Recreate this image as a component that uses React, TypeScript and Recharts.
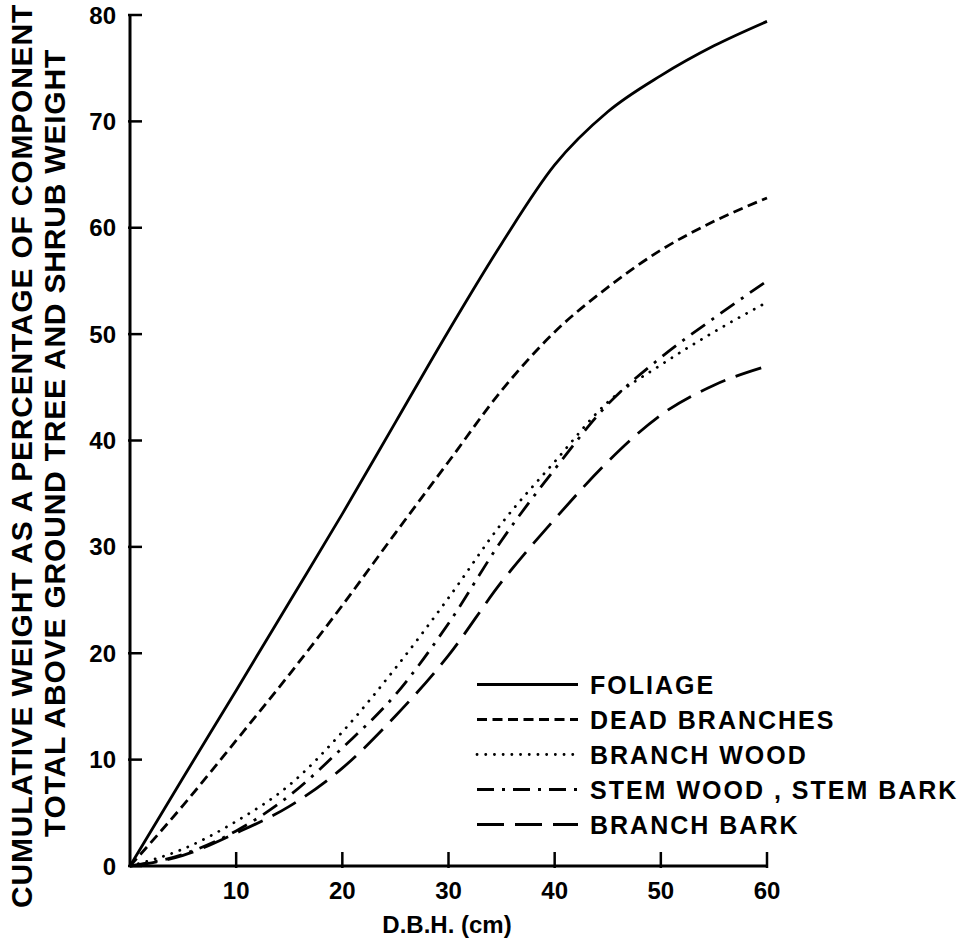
import React from "react";
import { LineChart, Line, XAxis, YAxis, Legend } from "recharts";

// D.B.H. (cm) sample points and cumulative % per component
const dbh = [0, 5, 10, 15, 20, 25, 30, 35, 40, 45, 50, 55, 60];
const foliage = [0, 8.3, 16.5, 24.8, 33.1, 41.7, 50.3, 58.5, 65.9, 70.9, 74.3, 77.1, 79.4];
const deadBranches = [0, 5.7, 11.8, 18.0, 24.5, 31.3, 38.0, 44.7, 50.2, 54.4, 57.9, 60.6, 62.8];
const branchWood = [0, 1.6, 4.2, 7.6, 12.6, 18.6, 25.2, 32.2, 38.0, 43.6, 47.1, 50.2, 53.0];
const stemWood = [0, 1.1, 3.3, 6.6, 11.1, 16.1, 22.8, 30.6, 37.3, 43.4, 47.8, 51.5, 55.0];
const branchBark = [0, 1.0, 3.1, 5.6, 9.2, 14.1, 19.8, 26.7, 32.6, 38.0, 42.4, 45.2, 47.0];

const xTicks = [10, 20, 30, 40, 50, 60];
const yTicks = [0, 10, 20, 30, 40, 50, 60, 70, 80];

const FONT = "'Liberation Sans', Arial, Helvetica, sans-serif";

const series = [
  { key: "foliage", name: "FOLIAGE", dash: undefined, cap: "butt" },
  { key: "deadBranches", name: "DEAD BRANCHES", dash: "10 5.5", cap: "butt" },
  { key: "branchWood", name: "BRANCH WOOD", dash: "0.1 8.6", cap: "round" },
  { key: "stemWood", name: "STEM WOOD , STEM BARK", dash: "17 8 3 8", cap: "butt" },
  { key: "branchBark", name: "BRANCH BARK", dash: "27 11", cap: "butt" },
];

const data = dbh.map((d, i) => ({
  dbh: d,
  foliage: foliage[i],
  deadBranches: deadBranches[i],
  branchWood: branchWood[i],
  stemWood: stemWood[i],
  branchBark: branchBark[i],
}));

// ticks point into the plot, labels sit outside
const XTick = ({ x, y, payload }: any) => (
  <g>
    <line x1={x} y1={y} x2={x} y2={y - 16} stroke="#000" strokeWidth={2.5} />
    <text
      x={x}
      y={y + 31}
      textAnchor="middle"
      fontFamily={FONT}
      fontWeight="bold"
      fontSize={24}
      fill="#000"
    >
      {payload.value}
    </text>
  </g>
);

const YTick = ({ x, y, payload }: any) => (
  <g>
    <line x1={x} y1={y} x2={x + 14} y2={y} stroke="#000" strokeWidth={2.5} />
    <text
      x={x - 12}
      y={y + 8.5}
      textAnchor="end"
      fontFamily={FONT}
      fontWeight="bold"
      fontSize={24}
      fill="#000"
    >
      {payload.value}
    </text>
  </g>
);

const YTitle = () => (
  <g fontFamily={FONT} fontWeight="bold" fontSize={30} fill="#000">
    <text
      transform="translate(32, 456) rotate(-90)"
      textAnchor="middle"
      letterSpacing={0.8}
    >
      CUMULATIVE WEIGHT AS A PERCENTAGE OF COMPONENT
    </text>
    <text
      transform="translate(65, 443) rotate(-90)"
      textAnchor="middle"
      letterSpacing={0.8}
    >
      TOTAL ABOVE GROUND TREE AND SHRUB WEIGHT
    </text>
  </g>
);

const XTitle = () => (
  <text
    x={447}
    y={933}
    textAnchor="middle"
    fontFamily={FONT}
    fontWeight="bold"
    fontSize={24}
    fill="#000"
  >
    D.B.H. (cm)
  </text>
);

const LegendBox = () => (
  <svg width={499} height={180}>
    {series.map((s, i) => {
      const cy = 19.5 + i * 35;
      return (
        <g key={s.key}>
          <line
            x1={7}
            y1={cy}
            x2={108}
            y2={cy}
            stroke="#000"
            strokeWidth={2.8}
            strokeDasharray={s.dash}
            strokeLinecap={s.cap as any}
          />
          <text
            x={120}
            y={cy + 9}
            fontFamily={FONT}
            fontWeight="bold"
            fontSize={25}
            letterSpacing={2}
            fill="#000"
          >
            {s.name}
          </text>
        </g>
      );
    })}
  </svg>
);

export default function App() {
  return (
    <div style={{ position: "absolute", left: 0, top: 0, background: "#fff" }}>
      <LineChart
        width={969}
        height={938}
        data={data}
        margin={{ top: 15, right: 202, left: 70, bottom: 42 }}
      >
        <XAxis
          dataKey="dbh"
          type="number"
          domain={[0, 60]}
          ticks={xTicks}
          height={30}
          tickSize={0}
          tickLine={false}
          axisLine={{ stroke: "#000", strokeWidth: 3 }}
          tick={<XTick />}
          label={{ content: <XTitle /> }}
        />
        <YAxis
          type="number"
          domain={[0, 80]}
          ticks={yTicks}
          width={60}
          tickSize={0}
          tickLine={false}
          axisLine={{ stroke: "#000", strokeWidth: 3 }}
          tick={<YTick />}
          label={{ content: <YTitle /> }}
        />
        <Legend
          layout="horizontal"
          verticalAlign="middle"
          align="center"
          content={<LegendBox />}
          wrapperStyle={{ position: "absolute", left: 470, top: 665, width: 499 }}
        />
        {series.map((s) => (
          <Line
            key={s.key}
            dataKey={s.key}
            name={s.name}
            type="monotone"
            stroke="#000"
            strokeWidth={2.8}
            strokeDasharray={s.dash}
            strokeLinecap={s.cap as any}
            dot={false}
            activeDot={false}
            isAnimationActive={false}
          />
        ))}
      </LineChart>
    </div>
  );
}
